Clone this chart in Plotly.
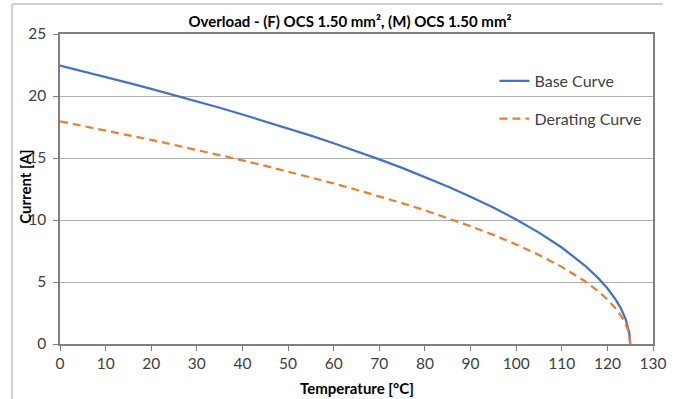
import plotly.graph_objects as go

temperature = [0, 5, 10, 15, 20, 25, 30, 35, 40, 45, 50, 55, 60, 65, 70, 75, 80, 85, 90,
               95, 100, 105, 110, 115, 118, 120, 122, 123, 124, 124.5, 124.8, 125]
base_curve = [22.45, 22.00, 21.53, 21.06, 20.58, 20.08, 19.57, 19.05, 18.51, 17.96, 17.39,
              16.80, 16.19, 15.55, 14.89, 14.20, 13.47, 12.70, 11.88, 11.00, 10.04, 8.98,
              7.78, 6.35, 5.31, 4.49, 3.48, 2.84, 2.01, 1.42, 0.90, 0.0]
derating_curve = [17.96, 17.60, 17.22, 16.85, 16.46, 16.06, 15.66, 15.24, 14.81, 14.37, 13.91,
                  13.44, 12.95, 12.44, 11.91, 11.36, 10.78, 10.16, 9.50, 8.80, 8.03, 7.18,
                  6.22, 5.08, 4.25, 3.59, 2.78, 2.27, 1.61, 1.14, 0.72, 0.0]

title_text = "<b>Overload - (F) OCS 1.50 mm², (M) OCS 1.50 mm²</b>"
x_title = "<b>Temperature [°C]</b>"
y_title = "<b>Current [A]</b>"

FONT = "Lato, 'Noto Sans', sans-serif"

fig = go.Figure()
fig.add_trace(go.Scatter(x=temperature, y=base_curve, mode="lines", name="Base Curve",
                         legendgroup="a",
                         line=dict(color="#4472C4", width=2.25)))
fig.add_trace(go.Scatter(x=temperature, y=derating_curve, mode="lines", name="Derating Curve",
                         legendgroup="b",
                         line=dict(color="#ED7D31", width=2.25, dash="8px,5px")))

W, H = 676, 399
L, R, T, B = 60, 10, 34, 55
pw, ph = W - L - R, H - T - B

def px(x):
    return (x - L) / pw

def py(y):
    return (H - B - y) / ph

fig.update_layout(
    width=W, height=H,
    margin=dict(l=L, r=R, t=T, b=B),
    paper_bgcolor="white", plot_bgcolor="white",
    font=dict(family=FONT, size=15, color="#404040"),
    title=dict(text=title_text, x=350 / W, xref="container", xanchor="center",
               y=1 - 22 / H, yref="container", yanchor="middle",
               font=dict(size=15, color="#000000", family=FONT)),
    showlegend=True,
    legend=dict(x=px(504), y=py(64), xanchor="left", yanchor="top",
                bgcolor="rgba(0,0,0,0)", tracegroupgap=14,
                font=dict(size=16, color="#404040", family=FONT)),
    xaxis=dict(range=[0, 130], dtick=10, tick0=0, showgrid=False, zeroline=False,
               showline=True, linecolor="#808080", linewidth=1.5, mirror=True,
               ticks="outside", ticklen=5, tickcolor="#808080",
               ticklabeloverflow="allow",
               tickfont=dict(size=15.5, color="#404040")),
    yaxis=dict(range=[0, 25], dtick=5, tick0=0, showgrid=True, gridcolor="#B0B0B0",
               gridwidth=1, zeroline=False,
               showline=True, linecolor="#808080", linewidth=1.5, mirror=True,
               ticks="outside", ticklen=5, tickcolor="#808080",
               ticklabelstandoff=4,
               tickfont=dict(size=15.5, color="#404040")),
    annotations=[
        dict(text=x_title, xref="paper", yref="paper", x=px(363), y=py(388),
             xanchor="center", yanchor="middle", showarrow=False,
             font=dict(size=15, color="#000000", family=FONT)),
        dict(text=y_title, xref="paper", yref="paper", x=px(24), y=py(187),
             xanchor="center", yanchor="middle", showarrow=False, textangle=-90,
             font=dict(size=15, color="#000000", family=FONT)),
    ],
    shapes=[
        dict(type="line", xref="paper", yref="paper", x0=px(11), x1=px(676),
             y0=py(4), y1=py(4), line=dict(color="#BFBFBF", width=1.5)),
        dict(type="line", xref="paper", yref="paper", x0=px(11), x1=px(11),
             y0=py(4), y1=py(399), line=dict(color="#BFBFBF", width=1.5)),
    ],
)

fig.write_html("out.html")
